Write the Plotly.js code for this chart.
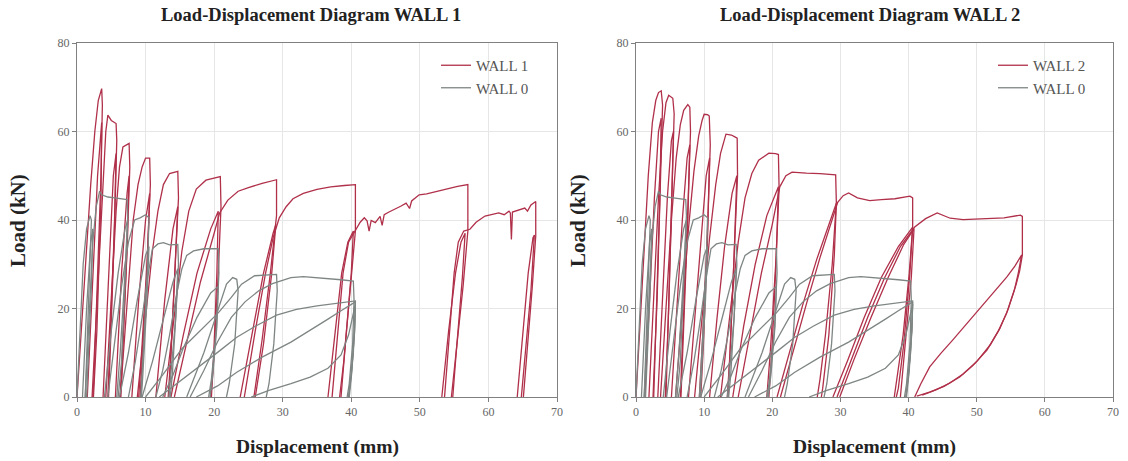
<!DOCTYPE html>
<html><head><meta charset="utf-8">
<script src="https://cdn.plot.ly/plotly-3.0.1.min.js"></script>
<style>html,body{margin:0;padding:0;background:#fff}#plot{width:1128px;height:461px}</style>
</head><body><div id="plot"></div>
<script>
// ---- DATA (displacement mm, load kN); null breaks where the curve leaves the positive quadrant ----
const titles = ["Load-Displacement Diagram WALL 1", "Load-Displacement Diagram WALL 2"];
const xTitle = "Displacement (mm)";
const yTitle = "Load (kN)";
const seriesNames = ["WALL 1", "WALL 0", "WALL 2"];

const wall1Pts = [
 [0,0],[0.5,12],[1.2,30],[2,48],[2.6,60],[3.1,67],[3.6,69.7],[3.7,66],[3.5,50],[3.0,25],[2.5,5],[2.3,0],null,
 [1.5,0],[2.3,25],[3,50],[3.6,62],[3.5,45],[2.9,15],[2.4,0],null,
 [2.2,0],[3,25],[3.8,50],[4.2,60],[4.5,63.7],[5,62.5],[5.7,61.8],[5.8,58],[5.5,40],[4.9,15],[4.5,0],null,
 [3.8,0],[4.6,28],[5.3,50],[5.7,55],[5.4,35],[4.8,8],[4.6,0],null,
 [4.2,0],[5,22],[5.7,42],[6.2,52],[6.7,56.5],[7.6,57.3],[7.7,52],[7.3,33],[6.7,12],[6.3,0],null,
 [5.6,0],[6.5,28],[7.3,46],[7.6,50],[7.2,30],[6.6,6],[6.4,0],null,
 [6.3,0],[7.3,22],[8.2,40],[8.9,48],[9.5,52],[10,54],[10.6,54],[10.7,48],[10.2,30],[9.5,12],[9,0],null,
 [8,0],[9,22],[10,40],[10.6,46],[10.2,28],[9.5,7],[9.2,0],null,
 [8.8,0],[10,18],[11,33],[11.8,42],[12.6,48],[13.5,50.5],[14.7,51],[14.8,45],[14.3,28],[13.7,10],[13.3,0],null,
 [11.5,0],[12.8,22],[14,38],[14.7,43],[14.2,26],[13.6,6],[13.4,0],null,
 [12.8,0],[14.2,18],[15.3,33],[16.3,42],[17.4,47],[18.8,49],[20.9,49.8],[21,43],[20.6,28],[20,10],[19.5,0],null,
 [13.7,0],[15.5,14],[17.5,28],[19.5,38],[20.6,42],[20.4,28],[19.9,8],[19.6,0],null,
 [14.2,0],[16,12],[18,26],[20,37],[20.8,41.6],[22,44.5],[23.5,46.5],[25,47.3],[27,48.3],[29.1,49.1],[29.1,41],[28.2,28],[27,13],[25.8,0],null,
 [23.8,0],[25.5,14],[27.2,28],[28.6,37],[29,39],[28.4,28],[27.2,12],[26,0],null,
 [24.4,0],[26,15],[27.5,28],[28.6,36],[29.5,40.5],[30.5,43],[31.5,44.8],[33,46],[35,46.9],[37,47.5],[39,47.8],[40.6,48],[40.6,37.5],[39.9,25],[38.9,8],[38.3,0],null,
 [36.6,0],[37.6,14],[38.6,28],[39.5,35],[40.3,37.5],[40,28],[39.2,12],[38.5,0],null,
 [37.2,0],[38,15],[38.8,28],[39.6,35],[40.5,37.5],[41.3,39.5],[41.9,40.5],[42.3,39.8],[42.6,37.5],[42.9,39.9],[43.5,39.4],[44.2,40.8],[44.5,38.8],[44.8,41.2],[45.5,41.8],[46.5,42.5],[47.2,43.1],[48,43.8],[48.5,42.6],[48.8,44.3],[49.9,45.7],[51,45.9],[52.5,46.5],[54,47],[55.5,47.6],[57,48],[57,37.5],[56.3,25],[55.2,8],[54.6,0],null,
 [53.2,0],[54.2,15],[55.2,28],[56,35],[56.6,37],[56.2,27],[55.3,10],[54.8,0],null,
 [53.6,0],[54.3,15],[55,28],[55.6,35],[56.4,37.5],[57.3,37.9],[58.2,39.5],[59.5,40.9],[60.5,41.2],[61.5,41.6],[62.3,41.2],[63,42],[63.2,41.6],[63.35,35.6],[63.5,41.8],[64.3,42.2],[65.3,42.7],[65.7,42],[66.2,43.4],[66.9,44.2],[66.9,36.4],[66.4,25],[65.5,8],[65.1,0],null,
 [64.2,0],[65,14],[65.8,28],[66.5,36],[66.7,36.6],[66.2,24],[65.2,6],[64.8,0]
];

const wall0Pts = [
 [0,0],[0.4,15],[0.9,30],[1.4,38],[1.9,41],[2.1,40],[1.8,25],[1.4,8],[1.2,0],null,
 [0.8,0],[1.4,20],[2,35],[2.3,38],[2.1,25],[1.6,5],[1.4,0],null,
 [1.2,0],[1.8,20],[2.3,35],[2.8,43],[3.3,46.5],[3.6,45.7],[4.5,45.2],[5.5,45],[6.5,44.8],[7.3,44.6],[7.4,41],[7,28],[6.3,10],[5.8,0],null,
 [4,0],[5,15],[6,28],[7,38],[7.4,40],[7.1,28],[6.5,8],[6,0],null,
 [4.5,0],[5.5,12],[6.5,25],[7.5,35],[8.4,40],[9.2,40.5],[10,41.2],[10.5,40.5],[10.3,30],[9.8,14],[9.3,0],null,
 [6.2,0],[7.5,10],[8.8,22],[10,32],[10.5,34],[10.2,22],[9.6,5],[9.4,0],null,
 [7.5,0],[8.5,8],[9.5,18],[10.3,27],[11,33.5],[11.8,34.6],[12.6,34.9],[13.5,34.4],[14.7,34.5],[14.8,30],[14.4,18],[13.8,6],[13.4,0],null,
 [9.5,0],[11,8],[12.5,17],[14,26],[14.7,29],[14.4,18],[13.9,5],[13.6,0],null,
 [11.5,0],[12.5,6],[13.5,14],[14.5,23],[15.3,29],[16,32],[17,33],[18.5,33.5],[20.6,33.5],[20.7,28],[20.3,15],[19.6,4],[19.2,0],null,
 [12.5,0],[14,5],[15.5,11],[17.5,18],[19.5,23.5],[20.6,25],[20.4,16],[19.8,5],[19.4,0],null,
 [16,0],[17,4],[18.5,10],[20,17],[21,22],[21.8,25.5],[22.7,27],[23.3,26.6],[23.5,24],[23,12],[22.2,3],[21.8,0],null,
 [10,0],[12.5,5],[15.3,10.9],[18,15],[20.6,19],[22.5,22.5],[24,25.5],[25.9,27.4],[27.5,27.6],[29.1,27.7],[29.2,24],[28.7,12],[28,3],[27.6,0],null,
 [16.5,0],[18.5,6],[20.5,12.5],[22.5,18],[24.5,21.5],[26.5,24],[28.5,25.6],[31.2,27],[33,27.2],[35,27],[37,26.8],[38.5,26.5],[40.3,26.2],[40.4,22],[40.2,12],[39.7,3],[39.4,0],null,
 [12,0],[15,3.5],[17.9,7],[20.6,10.2],[23.3,13.5],[26,16],[29.1,18.5],[32,19.8],[35,20.6],[38,21.2],[40.6,21.7],[40.5,16],[40.1,6],[39.7,0],null,
 [17.4,0],[20.5,2.5],[23.3,5.6],[27,9],[31.2,12.4],[34,15],[36.6,17.6],[38.5,19.5],[40.6,21.5],[40.5,15],[40,5],[39.6,0],null,
 [25.4,0],[28,1.5],[31.2,3],[34,4.5],[36.6,6.5],[38.5,9.5],[39.6,14],[40.3,19],[40.6,21],[40.3,10],[39.8,2],[39.6,0]
];

const wall2Pts = [
 [0,0],[0.5,14],[1.1,32],[1.8,50],[2.4,62],[2.9,67],[3.3,68.8],[3.7,69.2],[3.9,66],[3.6,48],[3.1,22],[2.6,4],[2.5,0],null,
 [1.3,0],[2,22],[2.7,45],[3.3,60],[3.7,63],[3.5,45],[2.9,15],[2.6,0],null,
 [1.9,0],[2.6,22],[3.3,45],[3.9,60],[4.4,66.5],[4.8,68.2],[5.1,67.8],[5.4,67.5],[5.6,64],[5.3,45],[4.8,20],[4.3,0],null,
 [3.2,0],[3.9,22],[4.6,45],[5.2,58],[5.5,60],[5.2,42],[4.7,15],[4.4,0],null,
 [3.6,0],[4.4,20],[5.2,40],[5.9,54],[6.5,61.5],[7,64.8],[7.6,66.1],[7.9,65.5],[8,60],[7.6,42],[7,18],[6.5,0],null,
 [5.2,0],[6,20],[6.8,40],[7.5,54],[7.9,57],[7.6,40],[7,14],[6.6,0],null,
 [5.8,0],[6.8,20],[7.7,38],[8.5,51],[9.2,59],[9.7,62.5],[10,63.9],[10.5,63.8],[10.75,63.5],[10.9,57],[10.5,38],[9.8,14],[9.3,0],null,
 [7.7,0],[8.6,18],[9.5,36],[10.3,50],[10.8,54],[10.5,36],[9.9,12],[9.5,0],null,
 [8.6,0],[9.7,18],[10.8,36],[11.7,48],[12.4,55],[13.2,59.4],[14,59.2],[14.5,58.8],[14.85,58.5],[14.9,50],[14.4,30],[13.8,10],[13.4,0],null,
 [10.8,0],[11.9,18],[13,34],[14.1,46],[14.8,50],[14.4,32],[13.8,10],[13.5,0],null,
 [12.4,0],[13.7,18],[15,35],[16,45],[17,50.5],[18,53.5],[19.5,55.1],[20.5,55],[20.9,54.8],[21,47],[20.5,30],[19.7,10],[19.2,0],null,
 [14.2,0],[15.8,16],[17.5,30],[19.2,41],[20.9,47.5],[20.6,32],[20,12],[19.5,0],null,
 [15,0],[16.7,14],[18.4,28],[20,39],[21.1,47.5],[22,50],[22.9,50.8],[25,50.6],[27,50.5],[29.3,50.2],[29.4,44],[28.8,30],[27.8,14],[27,4],[26.6,0],null,
 [20.7,0],[22.5,10],[24.5,21],[26.5,31],[28.4,39.5],[29.4,43.8],[29.1,32],[28.3,14],[27.4,2],[27.2,0],null,
 [21.2,0],[23,10],[25,21],[27,31.5],[28.8,40.5],[29.6,44],[30.4,45.5],[31.2,46.1],[32.5,45],[34.3,44.4],[36,44.6],[38,44.8],[40.2,45.4],[40.6,45],[40.6,38.4],[40.1,28],[39.2,14],[38.3,4],[37.9,0],null,
 [28.9,0],[31,8],[33.5,18],[36,27],[38.5,34],[40.6,38.4],[40.2,28],[39.3,12],[38.5,2],[38.2,0],null,
 [29.9,0],[32,8.5],[34.5,18],[37,27],[39.3,34.5],[40.8,38],[40.4,27],[39.5,11],[38.8,0],null,
 [29.5,0],[31.5,8],[34,18],[36.5,27],[38.8,34],[40.9,38.4],[42.5,40.3],[44.2,41.6],[45.2,41],[46.1,40.4],[48,40.1],[50,40.2],[52,40.3],[54,40.5],[56.4,41.1],[56.7,40.8],[56.7,32.1],[56.3,28.5],[55.8,25.5],[55.2,22.5],[54.4,19],[53.2,15],[51.5,10.6],[49.5,7.2],[47.5,4.5],[45.2,2.4],[43.1,1.1],[41.2,0.2],null,
 [40.9,0],[41.8,3],[43.1,6.8],[44.7,9.8],[46.5,12.9],[48.5,16.5],[50.5,20.3],[52.5,23.8],[54.4,27.1],[55.6,29.6],[56.6,32.1],[56.1,28],[55.5,24],[54.6,19.8],[53.4,15.5],[52,11.8],[50,8],[48,5.2],[46,3.1],[44,1.6],[42,0.4]
];

const xTicks = [0,10,20,30,40,50,60,70];
const yTicks = [0,20,40,60,80];

// ---- STYLE ----
const RED = "#b0304a", GREY = "#7e8684";
const serif = "Liberation Serif, Times New Roman, serif";
const xs = p => p.map(v => v ? v[0] : null);
const ys = p => p.map(v => v ? v[1] : null);

const traces = [
 {x: xs(wall1Pts), y: ys(wall1Pts), name: seriesNames[0], mode:"lines", line:{color:RED,width:1.3}, xaxis:"x", yaxis:"y", legend:"legend"},
 {x: xs(wall0Pts), y: ys(wall0Pts), name: seriesNames[1], mode:"lines", line:{color:GREY,width:1.3}, xaxis:"x", yaxis:"y", legend:"legend"},
 {x: xs(wall2Pts), y: ys(wall2Pts), name: seriesNames[2], mode:"lines", line:{color:RED,width:1.3}, xaxis:"x2", yaxis:"y2", legend:"legend2"},
 {x: xs(wall0Pts), y: ys(wall0Pts), name: seriesNames[1], mode:"lines", line:{color:GREY,width:1.3}, xaxis:"x2", yaxis:"y2", legend:"legend2"}
];

const W = 1128, H = 461;
const yDom = [1-397/H, 1-43/H];
const tickF = {family:serif,size:12,color:"#666"};
function xax(dom, anchor){ return {domain:dom, anchor:anchor, range:[0,70], tickvals:xTicks, showgrid:true, gridcolor:"#e6e6e6", showline:true, linecolor:"#808080", linewidth:1, mirror:true, ticks:"outside", ticklen:4, tickcolor:"#808080", zeroline:false, tickfont:tickF}; }
function yax(anchor){ return {domain:yDom, anchor:anchor, range:[0,80], tickvals:yTicks, showgrid:true, gridcolor:"#e6e6e6", showline:true, linecolor:"#808080", linewidth:1, mirror:true, ticks:"outside", ticklen:4, tickcolor:"#808080", zeroline:false, tickfont:tickF}; }

const legStyle = {font:{family:serif,size:15,color:"#555"}, bgcolor:"rgba(255,255,255,0)", borderwidth:0, xanchor:"left", yanchor:"top", tracegroupgap:0};

const tF = {family:serif,size:18.5,color:"#222",weight:"bold"};
const axF = {family:serif,size:19.5,color:"#222",weight:"bold"};
const ayF = {family:serif,size:21,color:"#222",weight:"bold"};

const layout = {
 width:W, height:H, margin:{l:0,r:0,t:0,b:0}, paper_bgcolor:"#fff", plot_bgcolor:"#fff",
 showlegend:true,
 xaxis: xax([77/W, 557/W], "y"), yaxis: yax("x"),
 xaxis2: xax([636/W, 1113/W], "y2"), yaxis2: yax("x2"),
 legend: Object.assign({x:436/W, y:1-49/H}, legStyle),
 legend2: Object.assign({x:993/W, y:1-49/H}, legStyle),
 annotations: [
  {text:titles[0], xref:"paper", yref:"paper", x:311/W, y:1-15/H, showarrow:false, font:tF, xanchor:"center", yanchor:"middle"},
  {text:titles[1], xref:"paper", yref:"paper", x:870/W, y:1-15/H, showarrow:false, font:tF, xanchor:"center", yanchor:"middle"},
  {text:xTitle, xref:"paper", yref:"paper", x:317/W, y:1-447/H, showarrow:false, font:axF, xanchor:"center", yanchor:"middle"},
  {text:xTitle, xref:"paper", yref:"paper", x:874/W, y:1-447/H, showarrow:false, font:axF, xanchor:"center", yanchor:"middle"},
  {text:yTitle, xref:"paper", yref:"paper", x:18/W, y:1-221/H, textangle:-90, showarrow:false, font:ayF, xanchor:"center", yanchor:"middle"},
  {text:yTitle, xref:"paper", yref:"paper", x:578/W, y:1-221/H, textangle:-90, showarrow:false, font:ayF, xanchor:"center", yanchor:"middle"}
 ]
};

Plotly.newPlot("plot", traces, layout, {displayModeBar:false, staticPlot:true});
</script></body></html>
